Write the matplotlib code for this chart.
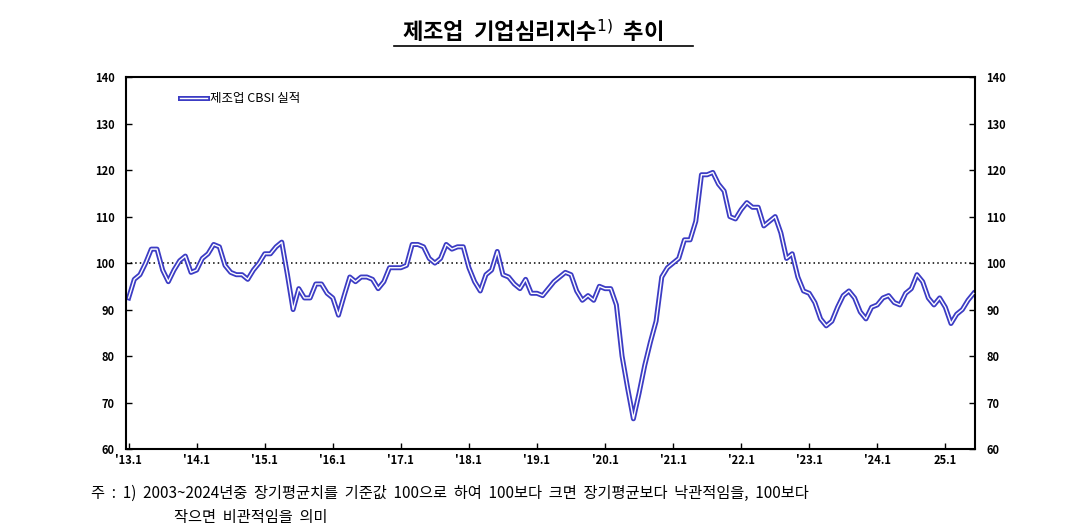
import numpy as np
import matplotlib.pyplot as plt
from matplotlib.lines import Line2D
import matplotlib.patheffects as pe

plt.rcParams["font.family"] = ["Noto Sans CJK JP", "Noto Sans CJK KR", "DejaVu Sans"]

# 제조업 CBSI 실적, 2013.1 ~ 2025.6 (월별)
y2013 = [92.5, 96.5, 97.5, 100, 103, 103, 98.5, 96, 98.5, 100.5, 101.5, 98]
y2014 = [98.5, 101, 102, 104, 103.5, 99.5, 98, 97.5, 97.5, 96.5, 98.5, 100]
y2015 = [102, 102, 103.5, 104.5, 97.5, 90, 94.5, 92.5, 92.5, 95.5, 95.5, 93.5]
y2016 = [92.5, 88.8, 93, 97, 96, 97, 97, 96.5, 94.5, 96, 99, 99]
y2017 = [99, 99.5, 104, 104, 103.5, 101, 100, 101, 104, 103, 103.5, 103.5]
y2018 = [99, 96, 94, 97.5, 98.5, 102.5, 97.5, 97, 95.5, 94.5, 96.5, 93.5]
y2019 = [93.5, 93, 94.5, 96, 97, 98, 97.5, 94, 92, 93, 92, 95]
y2020 = [94.5, 94.5, 91, 80, 73, 66.5, 72, 78, 83, 87.5, 97, 99]
y2021 = [100, 101, 105, 105, 109, 119, 119, 119.5, 117, 115.5, 110, 109.5]
y2022 = [111.5, 113, 112, 112, 108, 109, 110, 106.5, 101, 102, 97, 94]
y2023 = [93.5, 91.5, 88, 86.5, 87.5, 90.5, 93, 94, 92.5, 89.5, 88, 90.5]
y2024 = [91, 92.5, 93, 91.5, 91, 93.5, 94.5, 97.5, 96, 92.5, 91, 92.5]
y2025 = [90.5, 87, 89, 90, 92, 93.5]
cbsi = np.array(y2013 + y2014 + y2015 + y2016 + y2017 + y2018 + y2019 + y2020
                + y2021 + y2022 + y2023 + y2024 + y2025)

tick_labels = ["'13.1", "'14.1", "'15.1", "'16.1", "'17.1", "'18.1", "'19.1",
               "'20.1", "'21.1", "'22.1", "'23.1", "'24.1", "25.1"]

blue = "#3c3cc4"
x = np.arange(len(cbsi))
fig = plt.figure(figsize=(10.66, 5.32), dpi=100)
ax = fig.add_axes([0.118, 0.156, 0.797, 0.699])

ax.axhline(100, color="black", lw=1.1, ls=(0, (1, 2)), zorder=1)
ax.plot(x, cbsi, color=blue, lw=3.6, zorder=2, solid_joinstyle="round")
ax.plot(x, cbsi, color="white", lw=1.0, zorder=3, solid_joinstyle="round")

ax.set_xlim(-0.5, len(cbsi) - 1 + 0.3)
ax.set_ylim(60, 140)
ax.set_yticks(range(60, 141, 10))
ax.set_xticks(np.arange(len(tick_labels)) * 12)
ax.set_xticklabels(tick_labels)
ax.tick_params(direction="in", labelsize=8, length=4, width=1)
ax.tick_params(axis="y", right=True, labelright=True, pad=8)
for lab in ax.get_xticklabels() + ax.get_yticklabels():
    lab.set_fontweight("bold")
for lab in ax.yaxis.get_ticklabels(which="both"):
    lab.set_fontweight("bold")
for t in ax.yaxis.get_major_ticks():
    t.label2.set_fontweight("bold")
for sp in ax.spines.values():
    sp.set_linewidth(1.5)

# 범례: 이중선 모양
h = Line2D([], [], color="white", lw=1.0,
           path_effects=[pe.Stroke(linewidth=3.6, foreground=blue), pe.Normal()])
ax.legend([h], ["제조업 CBSI 실적"], loc="upper left", bbox_to_anchor=(0.05, 0.99),
          frameon=False, fontsize=9, handlelength=2.2, handletextpad=0.2)

fig.text(0.5, 0.925, "제조업  기업심리지수$^{1)}$  추이", ha="center", fontsize=16,
         fontweight="bold")
fig.add_artist(Line2D([0.37, 0.65], [0.913, 0.913], color="black", lw=1.2))

fig.text(0.085, 0.065, "주  :  1)  2003~2024년중  장기평균치를  기준값  100으로  하여  100보다  크면  장기평균보다  낙관적임을,  100보다",
         fontsize=11)
fig.text(0.163, 0.018, "작으면  비관적임을  의미", fontsize=11)

fig.savefig("out.png", dpi=100)
